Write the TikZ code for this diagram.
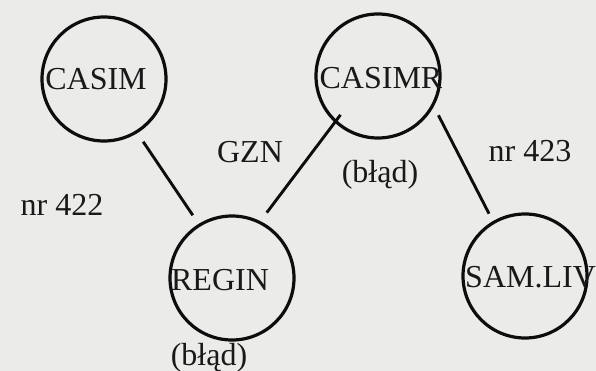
\documentclass[tikz,border=0pt]{standalone}
\usepackage{fontspec}
\setmainfont{Liberation Serif}
\usepackage{tikz}
\usepackage{xcolor}
\definecolor{skan}{RGB}{235,235,233}

\begin{document}
\begin{tikzpicture}[x=1pt,y=-1pt,
                    every node/.style={font=\fontsize{32}{36}\selectfont, text=black!90, inner sep=0pt},
                    kolo/.style={circle, draw=black!95, line width=3.2pt, minimum size=124pt},
                    linia/.style={draw=black!95, line width=2.9pt}]
                    \fill[skan] (0,0) rectangle (596,371);
                    \useasboundingbox (0,0) rectangle (596,371);
                    % kola
                    \node[kolo] (casim) at (104,79) {};
                    \node[kolo] (casimr) at (378,76) {};
                    \node[kolo] (regin) at (232,278) {};
                    \node[kolo] (samliv) at (525,276) {};
                    % nazwy w kolach
                    \node[anchor=base] (tcasim) at (96,90) {CASIM};
                    \node[anchor=base] (tcasimr) at (381,89) {CASIMR};
                    \node[anchor=base] (tregin) at (220,290) {REGIN};
                    \node[anchor=base west] (tsamliv) at (465,287) {SAM.LIV};
                    % opisy
                    \node[anchor=base] (gzn) at (250,163) {GZN};
                    \node[anchor=base] (nr422) at (62,215) {nr 422};
                    \node[anchor=base] (nr423) at (530,162) {nr 423};
                    \node[anchor=base] (blad1) at (380,183) {(błąd)};
                    \node[anchor=base] (blad2) at (209,365) {(błąd)};
                    % polaczenia
                    \draw[linia] ([shift={(302:74pt)}]casim.center) -- ([shift={(122:74pt)}]regin.center);
                    \draw[linia] ([shift={(62:74pt)}]regin.center) -- ([shift={(226:54pt)}]casimr.center);
                    \draw[linia] ([shift={(327:72pt)}]casimr.center) -- ([shift={(120:72pt)}]samliv.center);
                \end{tikzpicture}
\end{document}
